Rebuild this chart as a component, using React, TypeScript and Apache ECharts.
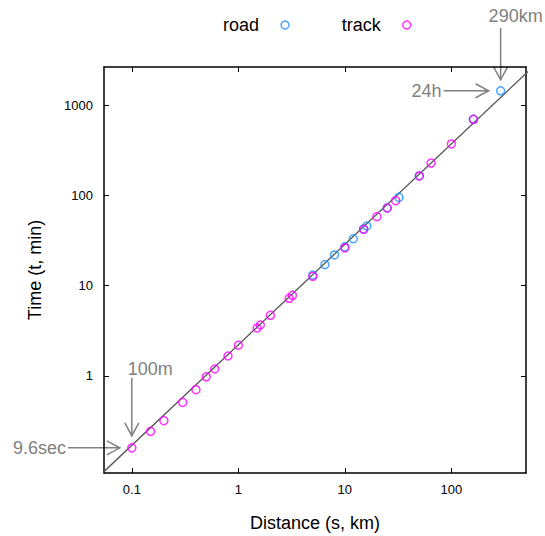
import { useEffect, useRef } from 'react';
import * as echarts from 'echarts';

const FONT = "'Liberation Sans', Arial, Helvetica, sans-serif";

const xTicks = [0.1, 1, 10, 100];
const yTicks = [1, 10, 100, 1000];

const roadDist = [5, 6.5, 8, 10, 12, 15, 16.09, 25, 32.2, 50, 161, 290];
const roadTime = [13.1, 17.1, 21.9, 26.9, 33.1, 42.5, 45.8, 72.5, 95, 164, 696, 1440];

const trackDist = [0.1, 0.15, 0.2, 0.3, 0.4, 0.5, 0.6, 0.8, 1, 1.5, 1.609, 2, 3, 3.219, 5, 10, 15, 20, 25, 30, 50, 64.4, 100, 161];
const trackTime = [0.16, 0.244, 0.32, 0.51, 0.705, 0.98, 1.195, 1.665, 2.19, 3.4, 3.67, 4.7, 7.25, 7.83, 12.7, 26.2, 42.1, 58.1, 72.5, 87.4, 164, 228, 371, 696];

const fitDist = [0.05, 600];
const fitTime = [0.079, 2730];

const X_MIN = 0.0548;
const X_MAX = 502;
const Y_MIN = 0.0843;
const Y_MAX = 2640;

const GRAY = '#808080';
const BLUE = '#1e90ff';
const MAGENTA = '#ff00ff';

const fmt = (v: number) => String(+Number(v).toPrecision(6));

function pairs(xs: number[], ys: number[]) {
  return xs.map((x, i) => [x, ys[i]]);
}

export default function App() {
  const ref = useRef<HTMLDivElement>(null);
  useEffect(() => {
    const chart = echarts.init(ref.current!, null, { renderer: 'svg' });
    const tickCommon = { show: true, inside: true, length: 5, lineStyle: { color: '#000', width: 1 } };
    const lineCommon = { show: true, lineStyle: { color: '#000', width: 1.5 } };
    chart.setOption({
      animation: false,
      backgroundColor: '#fff',
      grid: { left: 104, right: 19, top: 67, bottom: 63, containLabel: false, outerBoundsMode: 'none' },
      legend: {
        left: 218,
        top: 11,
        align: 'right',
        itemGap: 52,
        itemWidth: 8,
        itemHeight: 8,
        textStyle: { fontSize: 18, fontFamily: FONT, color: '#000', padding: [0, 17, 0, 0] },
        data: [
          { name: 'road', icon: 'circle', itemStyle: { color: 'transparent', borderColor: BLUE, borderWidth: 1.5 } },
          { name: 'track', icon: 'circle', itemStyle: { color: 'transparent', borderColor: MAGENTA, borderWidth: 1.5 } },
        ],
      },
      xAxis: [
        {
          type: 'log',
          logBase: 10,
          min: X_MIN,
          max: X_MAX,
          position: 'bottom',
          name: 'Distance (s, km)',
          nameLocation: 'middle',
          nameGap: 41,
          nameTextStyle: { fontSize: 18, fontFamily: FONT, color: '#000' },
          axisLine: lineCommon,
          axisTick: { ...tickCommon, customValues: xTicks },
          axisLabel: { customValues: xTicks, formatter: fmt, fontSize: 13, fontFamily: FONT, color: '#000', margin: 10 },
          splitLine: { show: false },
        },
        {
          type: 'log',
          logBase: 10,
          min: X_MIN,
          max: X_MAX,
          position: 'top',
          axisLine: lineCommon,
          axisTick: { ...tickCommon, customValues: xTicks },
          axisLabel: { show: false },
          splitLine: { show: false },
        },
      ],
      yAxis: [
        {
          type: 'log',
          logBase: 10,
          min: Y_MIN,
          max: Y_MAX,
          position: 'left',
          name: 'Time (t, min)',
          nameLocation: 'middle',
          nameGap: 60,
          nameTextStyle: { fontSize: 18, fontFamily: FONT, color: '#000' },
          axisLine: lineCommon,
          axisTick: { ...tickCommon, customValues: yTicks },
          axisLabel: { customValues: yTicks, formatter: fmt, fontSize: 13, fontFamily: FONT, color: '#000', margin: 11 },
          splitLine: { show: false },
        },
        {
          type: 'log',
          logBase: 10,
          min: Y_MIN,
          max: Y_MAX,
          position: 'right',
          axisLine: lineCommon,
          axisTick: { ...tickCommon, customValues: yTicks },
          axisLabel: { show: false },
          splitLine: { show: false },
        },
      ],
      series: [
        {
          name: 'fit',
          type: 'line',
          data: pairs(fitDist, fitTime),
          symbol: 'none',
          clip: true,
          silent: true,
          lineStyle: { color: '#555', width: 1.3 },
          z: 1,
        },
        {
          name: 'road',
          type: 'scatter',
          data: pairs(roadDist, roadTime),
          symbol: 'circle',
          symbolSize: 8,
          itemStyle: { color: 'transparent', borderColor: BLUE, borderWidth: 1.5 },
          z: 2,
        },
        {
          name: 'track',
          type: 'scatter',
          data: pairs(trackDist, trackTime),
          symbol: 'circle',
          symbolSize: 8,
          itemStyle: { color: 'transparent', borderColor: MAGENTA, borderWidth: 1.5 },
          z: 3,
        },
      ],
    });

    const pTop = chart.convertToPixel({ xAxisIndex: 0, yAxisIndex: 0 }, [roadDist[roadDist.length - 1], roadTime[roadTime.length - 1]]) as number[];
    const pLow = chart.convertToPixel({ xAxisIndex: 0, yAxisIndex: 0 }, [trackDist[0], trackTime[0]]) as number[];
    const arrowStyle = { stroke: GRAY, lineWidth: 1.5, fill: null };
    const textStyle = (text: string, align: string) => ({
      text,
      fill: GRAY,
      font: `18px ${FONT}`,
      fontSize: 18,
      fontFamily: FONT,
      textAlign: align,
      align,
      textVerticalAlign: 'middle',
      verticalAlign: 'middle',
    });
    const hl = 13;
    const hw = 7;
    const down = (x: number, y0: number, y1: number) => [
      { type: 'polyline', silent: true, shape: { points: [[x, y0], [x, y1]] }, style: arrowStyle },
      { type: 'polyline', silent: true, shape: { points: [[x - hw, y1 - hl], [x, y1], [x + hw, y1 - hl]] }, style: arrowStyle },
    ];
    const right = (y: number, x0: number, x1: number) => [
      { type: 'polyline', silent: true, shape: { points: [[x0, y], [x1, y]] }, style: arrowStyle },
      { type: 'polyline', silent: true, shape: { points: [[x1 - hl, y - hw], [x1, y], [x1 - hl, y + hw]] }, style: arrowStyle },
    ];
    chart.setOption({
      graphic: [
        { type: 'text', silent: true, x: pTop[0] - 12, y: 16, style: textStyle('290km', 'left') },
        ...down(pTop[0], 28, pTop[1] - 11),
        { type: 'text', silent: true, x: pTop[0] - 59, y: pTop[1], style: textStyle('24h', 'right') },
        ...right(pTop[1], pTop[0] - 57, pTop[0] - 12),
        { type: 'text', silent: true, x: pLow[0] - 4, y: pLow[1] - 79, style: textStyle('100m', 'left') },
        ...down(pLow[0], pLow[1] - 70, pLow[1] - 12),
        { type: 'text', silent: true, x: 66, y: pLow[1], style: textStyle('9.6sec', 'right') },
        ...right(pLow[1], 68, pLow[0] - 12),
      ],
    });
    return () => chart.dispose();
  }, []);
  return <div ref={ref} style={{ position: 'fixed', left: 0, top: 0, width: 545, height: 536 }} />;
}
